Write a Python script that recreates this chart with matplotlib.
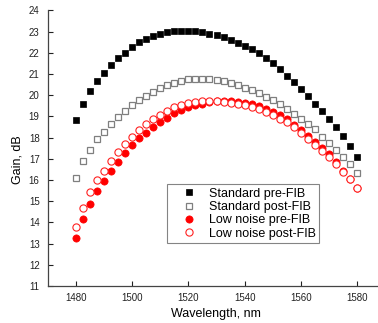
import matplotlib
matplotlib.use("Agg")
import matplotlib.pyplot as plt

plt.rcParams['font.family'] = ['Liberation Sans', 'DejaVu Sans']

# wavelength grid, nm
wavelength = [1480, 1482.5, 1485, 1487.5, 1490, 1492.5, 1495, 1497.5, 1500, 1502.5,
              1505, 1507.5, 1510, 1512.5, 1515, 1517.5, 1520, 1522.5, 1525, 1527.5,
              1530, 1532.5, 1535, 1537.5, 1540, 1542.5, 1545, 1547.5, 1550, 1552.5,
              1555, 1557.5, 1560, 1562.5, 1565, 1567.5, 1570, 1572.5, 1575, 1577.5, 1580]

# gain, dB
std_pre = [18.83, 19.60, 20.20, 20.67, 21.07, 21.44, 21.75, 22.01, 22.26, 22.50,
           22.66, 22.80, 22.91, 22.99, 23.02, 23.05, 23.05, 23.01, 22.97, 22.89,
           22.83, 22.74, 22.61, 22.48, 22.33, 22.17, 21.98, 21.77, 21.51, 21.23,
           20.93, 20.63, 20.31, 19.95, 19.61, 19.27, 18.89, 18.49, 18.06, 17.61, 17.10]
std_post = [16.11, 16.90, 17.42, 17.92, 18.25, 18.65, 18.96, 19.27, 19.54, 19.79,
            19.98, 20.17, 20.33, 20.47, 20.60, 20.69, 20.75, 20.78, 20.78, 20.78,
            20.74, 20.66, 20.58, 20.47, 20.35, 20.23, 20.09, 19.93, 19.78, 19.59,
            19.37, 19.13, 18.88, 18.65, 18.40, 18.05, 17.73, 17.42, 17.10, 16.76, 16.32]
ln_pre = [13.28, 14.16, 14.86, 15.47, 15.97, 16.44, 16.87, 17.26, 17.65, 17.97,
          18.23, 18.52, 18.74, 18.93, 19.14, 19.29, 19.43, 19.54, 19.60, 19.66,
          19.71, 19.72, 19.71, 19.68, 19.64, 19.57, 19.47, 19.35, 19.21, 19.05,
          18.86, 18.60, 18.34, 18.06, 17.80, 17.50, 17.23, 16.87, 16.43, 16.05, 15.62]
ln_post = [13.77, 14.70, 15.42, 15.99, 16.44, 16.91, 17.31, 17.69, 18.05, 18.36,
           18.63, 18.87, 19.08, 19.27, 19.43, 19.56, 19.64, 19.68, 19.72, 19.72,
           19.72, 19.68, 19.64, 19.59, 19.52, 19.43, 19.33, 19.21, 19.07, 18.90,
           18.72, 18.48, 18.22, 17.94, 17.65, 17.39, 17.10, 16.74, 16.39, 16.04, 15.61]

labels = ['Standard pre-FIB', 'Standard post-FIB', 'Low noise pre-FIB', 'Low noise post-FIB']
x_ticks = [1480, 1500, 1520, 1540, 1560, 1580]
y_ticks = list(range(11, 25))

fig = plt.figure(figsize=(3.78, 3.23), dpi=100)
ax = fig.add_axes([0.127, 0.1146, 0.873, 0.853])

ax.plot(wavelength, std_pre, ls='none', marker='s', ms=4.4, mfc='black', mec='black',
        mew=0.5, label=labels[0])
ax.plot(wavelength, std_post, ls='none', marker='s', ms=4.4, mfc='white', mec='#7f7f7f',
        mew=0.9, label=labels[1])
ax.plot(wavelength, ln_pre, ls='none', marker='o', ms=5.2, mfc='#ff0000', mec='#ff0000',
        mew=0.5, label=labels[2])
ax.plot(wavelength, ln_post, ls='none', marker='o', ms=5.2, mfc='white', mec='#ff2020',
        mew=0.8, label=labels[3])

ax.set_xlim(1470, 1587.5)
ax.set_ylim(11, 24)
ax.set_xticks(x_ticks)
ax.set_yticks(y_ticks)
ax.tick_params(direction='in', length=3.5, width=0.8, labelsize=7, colors='#222222')
ax.tick_params(axis='y', pad=6)
ax.tick_params(axis='x', pad=5)

for side in ['top', 'right']:
    ax.spines[side].set_visible(False)
for side in ['left', 'bottom']:
    ax.spines[side].set_color('#444444')
    ax.spines[side].set_linewidth(0.9)

ax.set_xlabel('Wavelength, nm', fontsize=9)
ax.set_ylabel('Gain, dB', fontsize=9)
ax.xaxis.set_label_coords(0.509, -0.08)
ax.yaxis.set_label_coords(-0.075, 0.46)

leg = ax.legend(loc='upper left', bbox_to_anchor=(0.3615, 0.370), borderaxespad=0,
                fontsize=9, frameon=True, fancybox=False, handlelength=2.9,
                handletextpad=0.1, labelspacing=0.1, borderpad=0.3)
leg.get_frame().set_edgecolor('#666666')
leg.get_frame().set_linewidth(0.8)

fig.savefig('out.png', dpi=100)
